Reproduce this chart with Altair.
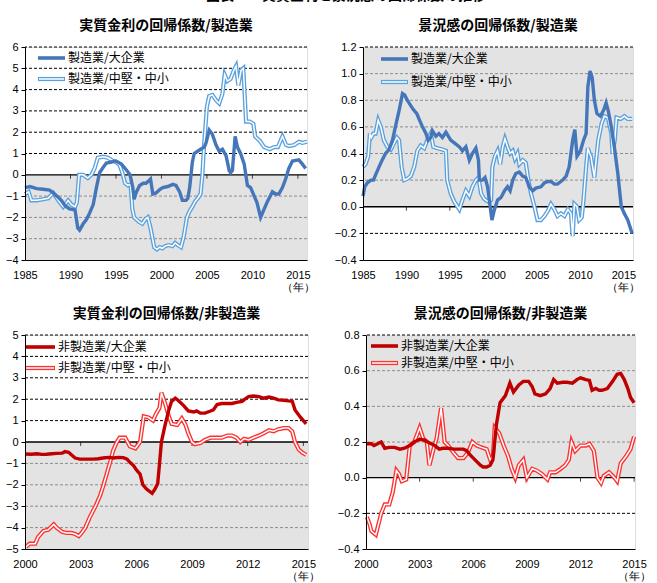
import altair as alt
import pandas as pd

JP = "Noto Sans CJK JP"
NUM = "Liberation Sans"
GRAY_BG = "#e3e3e3"

# ---------------- data (year, value) ----------------
mfg_rate_large = [(1985.0,-0.6),(1985.55,-0.55),(1986.3,-0.65),(1987.0,-0.68),(1987.7,-0.72),(1988.1,-0.85),(1988.5,-1.0),(1989.0,-1.2),(1989.4,-1.45),(1989.9,-1.6),(1990.5,-1.65),(1990.8,-2.5),(1991.0,-2.6),(1991.4,-2.3),(1991.75,-2.1),(1992.1,-1.8),(1992.5,-1.4),(1992.85,-0.6),(1993.2,0.1),(1993.6,0.35),(1993.95,0.55),(1994.5,0.6),(1995.0,0.65),(1995.6,0.5),(1996.1,0.25),(1996.55,0.0),(1996.85,-0.6),(1997.0,-1.15),(1997.2,-0.85),(1997.6,-0.5),(1998.0,-0.4),(1998.3,-0.4),(1998.7,-0.25),(1998.8,-0.2),(1999.05,-0.9),(1999.4,-0.85),(1999.8,-0.7),(2000.15,-0.6),(2000.7,-0.55),(2001.25,-0.45),(2001.6,-0.5),(2002.0,-0.8),(2002.3,-1.2),(2002.7,-1.2),(2002.9,-1.1),(2003.1,-0.6),(2003.4,0.6),(2003.6,1.0),(2004.3,1.2),(2004.7,1.3),(2004.9,1.5),(2005.25,2.1),(2005.6,1.9),(2006.0,1.4),(2006.35,1.1),(2006.7,1.2),(2007.1,0.9),(2007.45,0.2),(2007.6,0.1),(2007.8,0.2),(2008.1,1.8),(2008.35,1.3),(2008.7,1.0),(2009.1,0.5),(2009.45,-0.5),(2009.8,-0.6),(2010.2,-1.0),(2010.5,-1.3),(2010.9,-2.0),(2011.3,-1.6),(2011.6,-1.3),(2012.2,-0.8),(2012.55,-0.9),(2012.9,-0.9),(2013.3,-0.6),(2013.65,-0.2),(2014.0,0.3),(2014.4,0.65),(2015.1,0.7),(2015.5,0.5),(2015.85,0.3)]
mfg_rate_sme = [(1985.0,-0.9),(1985.4,-0.8),(1985.7,-1.2),(1986.3,-1.2),(1987.0,-1.15),(1987.55,-1.1),(1988.1,-0.85),(1988.65,-1.2),(1989.2,-1.5),(1989.75,-1.2),(1990.1,-1.4),(1990.5,-1.5),(1990.7,-1.3),(1990.95,0.0),(1991.4,0.0),(1991.9,-0.15),(1992.3,0.0),(1992.65,0.3),(1993.0,0.8),(1993.6,0.85),(1994.1,0.8),(1994.7,0.65),(1995.0,0.6),(1995.4,0.45),(1995.7,0.1),(1996.0,-0.4),(1996.3,-0.5),(1996.6,-0.45),(1996.8,-1.6),(1997.0,-2.0),(1997.5,-2.2),(1997.9,-2.3),(1998.2,-2.1),(1998.5,-2.0),(1998.8,-2.5),(1999.2,-3.4),(1999.5,-3.5),(1999.8,-3.4),(2000.1,-3.45),(2000.4,-3.35),(2000.8,-3.3),(2001.2,-3.35),(2001.5,-3.2),(2001.8,-3.3),(2002.15,-3.4),(2002.45,-2.9),(2002.8,-2.0),(2003.1,-1.7),(2003.4,-1.5),(2003.7,-1.25),(2004.0,-1.1),(2004.3,-0.9),(2004.5,0.0),(2004.7,1.5),(2005.0,3.2),(2005.25,3.7),(2005.6,3.75),(2006.0,3.5),(2006.35,3.35),(2006.7,3.8),(2006.95,4.7),(2007.25,4.4),(2007.6,4.5),(2007.95,4.9),(2008.2,5.1),(2008.45,4.2),(2008.75,4.9),(2009.0,5.0),(2009.3,2.5),(2009.7,2.5),(2010.1,2.4),(2010.3,1.8),(2010.8,1.6),(2011.3,1.3),(2011.9,1.2),(2012.4,1.3),(2012.8,1.3),(2013.3,1.8),(2013.7,1.4),(2014.0,1.35),(2014.6,1.4),(2015.1,1.55),(2015.5,1.5),(2016.0,1.55)]

mfg_biz_large = [(1985.0,0.08),(1985.2,0.15),(1985.5,0.18),(1985.9,0.2),(1986.2,0.2),(1986.45,0.24),(1986.85,0.3),(1987.2,0.35),(1987.6,0.4),(1988.0,0.43),(1988.4,0.5),(1988.8,0.62),(1989.15,0.72),(1989.55,0.85),(1989.8,0.84),(1990.1,0.8),(1990.5,0.76),(1990.8,0.73),(1991.2,0.7),(1991.45,0.66),(1991.85,0.6),(1992.25,0.55),(1992.5,0.5),(1992.8,0.52),(1993.0,0.57),(1993.4,0.53),(1993.75,0.55),(1994.15,0.52),(1994.55,0.56),(1995.1,0.5),(1995.7,0.47),(1996.1,0.45),(1996.45,0.42),(1996.85,0.45),(1997.25,0.35),(1997.6,0.4),(1998.0,0.44),(1998.3,0.35),(1998.4,0.2),(1998.75,0.2),(1999.05,0.22),(1999.35,0.15),(1999.65,0.0),(1999.85,-0.1),(2000.1,-0.03),(2000.5,0.05),(2000.9,0.07),(2001.3,0.12),(2001.65,0.15),(2001.95,0.12),(2002.25,0.2),(2002.6,0.25),(2003.0,0.26),(2003.4,0.23),(2003.75,0.22),(2004.15,0.15),(2004.55,0.12),(2004.9,0.14),(2005.5,0.15),(2005.9,0.18),(2006.3,0.19),(2006.65,0.19),(2007.05,0.17),(2007.4,0.17),(2008.0,0.2),(2008.4,0.23),(2008.75,0.3),(2009.15,0.5),(2009.4,0.58),(2009.65,0.38),(2010.05,0.42),(2010.4,0.5),(2010.7,0.55),(2010.9,0.9),(2011.15,1.02),(2011.4,0.97),(2011.65,0.8),(2011.95,0.7),(2012.35,0.68),(2012.75,0.73),(2013.0,0.78),(2013.25,0.72),(2013.6,0.6),(2013.95,0.45),(2014.35,0.25),(2014.75,0.0),(2015.1,-0.05),(2015.5,-0.1),(2016.0,-0.2)]
mfg_biz_sme = [(1985.0,0.3),(1985.3,0.32),(1985.6,0.38),(1985.8,0.55),(1985.95,0.52),(1986.2,0.55),(1986.45,0.55),(1986.75,0.65),(1987.05,0.6),(1987.4,0.5),(1987.8,0.45),(1988.2,0.43),(1988.6,0.48),(1988.9,0.52),(1989.15,0.5),(1989.45,0.3),(1989.75,0.2),(1990.1,0.21),(1990.5,0.23),(1990.9,0.3),(1991.25,0.42),(1991.65,0.46),(1992.05,0.44),(1992.4,0.5),(1992.8,0.55),(1993.1,0.45),(1993.6,0.44),(1994.15,0.43),(1994.55,0.42),(1994.7,0.2),(1995.1,0.1),(1995.5,0.04),(1995.9,0.0),(1996.1,-0.02),(1996.45,0.05),(1996.85,0.12),(1997.25,0.08),(1997.6,0.15),(1998.0,0.2),(1998.3,0.22),(1998.6,0.1),(1998.95,0.06),(1999.35,0.04),(1999.75,0.05),(1999.9,0.3),(2000.2,0.38),(2000.5,0.42),(2000.8,0.32),(2001.1,0.45),(2001.35,0.51),(2001.65,0.45),(2001.95,0.4),(2002.25,0.42),(2002.5,0.36),(2002.8,0.4),(2003.0,0.32),(2003.4,0.35),(2003.75,0.33),(2004.05,0.2),(2004.35,0.1),(2004.75,0.0),(2005.1,-0.1),(2005.5,-0.1),(2005.9,-0.07),(2006.3,-0.03),(2006.65,0.02),(2007.05,-0.02),(2007.4,-0.07),(2007.8,-0.05),(2008.2,-0.07),(2008.6,-0.02),(2008.95,-0.05),(2009.15,-0.22),(2009.35,0.02),(2009.65,0.0),(2009.9,-0.1),(2010.2,-0.08),(2010.4,0.05),(2010.7,0.3),(2010.9,0.44),(2011.1,0.4),(2011.25,0.38),(2011.45,0.3),(2011.65,0.22),(2011.85,0.35),(2012.1,0.5),(2012.5,0.63),(2012.8,0.68),(2013.2,0.67),(2013.6,0.55),(2013.75,0.4),(2014.0,0.5),(2014.2,0.67),(2014.7,0.66),(2015.1,0.68),(2015.5,0.66),(2016.0,0.66)]

nonmfg_rate_large = [(2000.0,-0.56),(2000.35,-0.57),(2000.65,-0.55),(2000.9,-0.58),(2001.15,-0.57),(2001.45,-0.55),(2001.7,-0.53),(2002.0,-0.52),(2002.15,-0.45),(2002.35,-0.48),(2002.5,-0.6),(2002.7,-0.75),(2002.95,-0.8),(2003.3,-0.8),(2003.7,-0.8),(2003.95,-0.78),(2004.2,-0.75),(2004.5,-0.72),(2004.75,-0.75),(2005.05,-0.72),(2005.3,-0.73),(2005.5,-0.8),(2005.65,-0.95),(2005.85,-1.1),(2006.0,-1.3),(2006.2,-1.5),(2006.35,-2.0),(2006.55,-2.2),(2006.85,-2.4),(2007.0,-2.2),(2007.15,-1.95),(2007.25,-1.0),(2007.35,0.0),(2007.55,0.8),(2007.75,1.5),(2007.9,1.9),(2008.1,2.05),(2008.25,1.95),(2008.55,1.7),(2008.8,1.45),(2009.1,1.4),(2009.25,1.45),(2009.45,1.35),(2009.7,1.35),(2010.0,1.45),(2010.15,1.5),(2010.35,1.75),(2010.6,1.8),(2010.9,1.8),(2011.15,1.8),(2011.4,1.85),(2011.7,1.9),(2011.85,2.0),(2012.05,2.12),(2012.3,2.15),(2012.6,2.12),(2012.85,2.05),(2013.15,2.1),(2013.4,2.05),(2013.65,1.97),(2013.95,1.95),(2014.2,1.92),(2014.4,1.9),(2014.55,1.5),(2014.85,1.15),(2015.15,0.85)]
nonmfg_rate_sme = [(2000.05,-4.9),(2000.25,-4.75),(2000.55,-4.75),(2000.7,-4.45),(2001.0,-4.15),(2001.25,-4.1),(2001.55,-3.85),(2001.7,-4.0),(2002.0,-4.2),(2002.25,-4.25),(2002.5,-4.25),(2002.7,-4.3),(2002.9,-4.4),(2003.05,-4.25),(2003.25,-4.0),(2003.5,-3.5),(2003.8,-3.0),(2004.05,-2.5),(2004.2,-2.1),(2004.4,-1.5),(2004.6,-0.9),(2004.75,-0.4),(2004.95,0.0),(2005.1,0.2),(2005.4,0.2),(2005.65,-0.2),(2005.95,-0.3),(2006.2,0.0),(2006.4,1.2),(2006.65,1.15),(2006.9,1.0),(2007.05,1.3),(2007.25,1.6),(2007.35,2.3),(2007.55,1.8),(2007.75,1.2),(2007.9,0.85),(2008.2,0.8),(2008.45,1.1),(2008.65,0.8),(2008.8,0.4),(2009.0,0.0),(2009.15,-0.1),(2009.45,-0.05),(2009.7,0.1),(2010.0,0.2),(2010.35,0.2),(2010.6,0.2),(2010.9,0.3),(2011.15,0.3),(2011.4,0.2),(2011.6,0.0),(2011.8,0.15),(2012.05,0.1),(2012.3,0.2),(2012.6,0.3),(2012.85,0.4),(2013.15,0.55),(2013.4,0.5),(2013.65,0.6),(2013.95,0.65),(2014.2,0.65),(2014.4,0.5),(2014.55,0.0),(2014.75,-0.35),(2014.95,-0.5),(2015.15,-0.6)]

nonmfg_biz_large = [(2000.05,0.19),(2000.3,0.19),(2000.45,0.18),(2000.65,0.19),(2000.85,0.2),(2001.05,0.165),(2001.3,0.17),(2001.6,0.17),(2001.9,0.16),(2002.15,0.165),(2002.45,0.18),(2002.7,0.2),(2003.0,0.215),(2003.3,0.21),(2003.45,0.2),(2003.65,0.19),(2003.85,0.18),(2004.1,0.16),(2004.3,0.165),(2004.6,0.165),(2004.9,0.16),(2005.15,0.16),(2005.45,0.16),(2005.65,0.15),(2005.8,0.13),(2006.1,0.1),(2006.4,0.07),(2006.55,0.06),(2006.75,0.06),(2006.95,0.07),(2007.1,0.1),(2007.2,0.2),(2007.3,0.3),(2007.5,0.42),(2007.8,0.46),(2008.05,0.53),(2008.25,0.48),(2008.55,0.52),(2008.8,0.54),(2009.1,0.54),(2009.3,0.51),(2009.45,0.47),(2009.75,0.46),(2010.05,0.47),(2010.3,0.5),(2010.5,0.55),(2010.7,0.53),(2011.0,0.535),(2011.25,0.535),(2011.55,0.53),(2011.8,0.55),(2012.0,0.56),(2012.3,0.55),(2012.5,0.545),(2012.65,0.49),(2012.85,0.5),(2013.05,0.49),(2013.2,0.49),(2013.5,0.5),(2013.8,0.54),(2014.05,0.58),(2014.25,0.585),(2014.45,0.55),(2014.65,0.5),(2014.8,0.45),(2015.0,0.42)]
nonmfg_biz_sme = [(2000.05,-0.22),(2000.2,-0.26),(2000.3,-0.3),(2000.55,-0.32),(2000.65,-0.28),(2000.85,-0.2),(2001.05,-0.15),(2001.3,-0.15),(2001.5,-0.08),(2001.7,0.04),(2001.85,0.02),(2002.0,-0.02),(2002.25,-0.01),(2002.45,0.18),(2002.7,0.2),(2003.0,0.28),(2003.2,0.22),(2003.4,0.2),(2003.55,0.07),(2003.75,0.15),(2003.95,0.22),(2004.2,0.39),(2004.4,0.2),(2004.6,0.18),(2004.9,0.14),(2005.15,0.11),(2005.45,0.11),(2005.7,0.14),(2005.95,0.2),(2006.2,0.18),(2006.45,0.17),(2006.75,0.16),(2006.95,0.1),(2007.1,0.12),(2007.2,0.28),(2007.45,0.25),(2007.7,0.18),(2007.95,0.12),(2008.15,0.05),(2008.35,0.0),(2008.55,0.07),(2008.8,0.1),(2009.0,0.0),(2009.3,0.05),(2009.55,0.04),(2009.85,0.02),(2010.15,-0.01),(2010.3,0.03),(2010.6,0.03),(2010.9,0.05),(2011.15,0.07),(2011.35,0.1),(2011.5,0.2),(2011.7,0.15),(2012.0,0.18),(2012.3,0.18),(2012.5,0.19),(2012.75,0.15),(2012.95,0.0),(2013.15,-0.03),(2013.3,0.01),(2013.6,0.03),(2013.9,0.0),(2014.05,-0.02),(2014.25,0.08),(2014.55,0.12),(2014.8,0.16),(2015.0,0.23)]

# axis ticks
ticks_long = [1985, 1990, 1995, 2000, 2005, 2010, 2015]
ticks_short = [2000, 2003, 2006, 2009, 2012, 2015]
y_tl = [6, 5, 4, 3, 2, 1, 0, -1, -2, -3, -4]
y_tr = [1.2, 1.0, 0.8, 0.6, 0.4, 0.2, 0.0, -0.2, -0.4]
y_bl = [5, 4, 3, 2, 1, 0, -1, -2, -3, -4, -5]
y_br = [0.8, 0.6, 0.4, 0.2, 0.0, -0.2, -0.4]

titles = ["実質金利の回帰係数/製造業", "景況感の回帰係数/製造業",
          "実質金利の回帰係数/非製造業", "景況感の回帰係数/非製造業"]
labels_mfg = ["製造業/大企業", "製造業/中堅・中小"]
labels_nonmfg = ["非製造業/大企業", "非製造業/中堅・中小"]

BLUE_L, BLUE_S = "#4576BA", "#5AA2DE"
RED_L, RED_S = "#C00000", "#FF3030"


def frame(pairs):
    return pd.DataFrame(pairs, columns=["year", "value"])


def one():
    return pd.DataFrame({"k": [0]})


def panel(title, large, sme, labels, c_large, c_sme, xdom, xticks, yticks, yfmt,
          shade_neg, w, h, leg):
    ydom = [min(yticks), max(yticks)]
    xs = alt.Scale(domain=xdom, nice=False, zero=False)
    ys = alt.Scale(domain=ydom, nice=False, zero=False)
    last = xticks[-1]
    xaxis = alt.Axis(values=xticks, format="d", title=None, grid=False, ticks=False,
                     domain=True, domainColor="black", domainWidth=1,
                     labelFont=NUM, labelFontSize=11, labelColor="black",
                     labelPadding=9, labelFlush=False, labelOverlap=False, zindex=1,
                     labelLineHeight=12,
                     labelExpr=f"datum.value == {last} ? [datum.label, '（年）'] : datum.label")
    yaxis = alt.Axis(values=yticks, format=yfmt, title=None, grid=False, ticks=True,
                     tickSize=4, tickColor="black", domainColor="black",
                     labelFont=NUM, labelFontSize=11, labelColor="black",
                     labelPadding=3, labelOverlap=False, labelFlush=False, zindex=1)
    X = alt.X("year:Q", scale=xs, axis=xaxis)
    Y = alt.Y("value:Q", scale=ys, axis=yaxis)

    if shade_neg:
        lo, hi = ydom[0], 0
    else:
        lo, hi = 0, ydom[1]
    bg = alt.Chart(pd.DataFrame({"value": [lo], "hi": [hi]})).mark_rect(
        color=GRAY_BG).encode(y=Y, y2="hi:Q", x=alt.value(0), x2=alt.value("width"))

    top = ydom[1]
    in_gray = [v for v in yticks if v != 0 and v != ydom[0] and v != top and ((v < 0) == shade_neg)]
    in_white = [v for v in yticks if v != 0 and v != ydom[0] and ((v < 0) != shade_neg or v == top)]
    g_white = alt.Chart(pd.DataFrame({"value": in_white})).mark_rule(
        color="#000000", strokeDash=[3, 2], strokeWidth=1).encode(y=Y)
    g_gray = alt.Chart(pd.DataFrame({"value": in_gray})).mark_rule(
        color="#8c8c8c", strokeDash=[3, 2], strokeWidth=1).encode(y=Y)
    zero = alt.Chart(pd.DataFrame({"value": [0]})).mark_rule(
        color="black", strokeWidth=1.3).encode(y=Y)
    tks = alt.Chart(pd.DataFrame({"year": xticks[1:], "value": [0] * (len(xticks) - 1)})).mark_tick(
        orient="vertical", color="black", size=4, thickness=1, yOffset=2).encode(x=X, y=Y)

    l_sme_out = alt.Chart(frame(sme)).mark_line(color=c_sme, strokeWidth=4.2).encode(x=X, y=Y)
    l_sme_in = alt.Chart(frame(sme)).mark_line(color="white", strokeWidth=1.5).encode(x=X, y=Y)
    l_large = alt.Chart(frame(large)).mark_line(color=c_large, strokeWidth=3.4).encode(x=X, y=Y)

    x0, x1, tx, y1, y2 = leg
    lg = [
        alt.Chart(one()).mark_rule(color=c_large, strokeWidth=3.6).encode(
            x=alt.value(x0), x2=alt.value(x1), y=alt.value(y1)),
        alt.Chart(one()).mark_rule(color=c_sme, strokeWidth=4.2).encode(
            x=alt.value(x0), x2=alt.value(x1), y=alt.value(y2)),
        alt.Chart(one()).mark_rule(color="white", strokeWidth=1.5).encode(
            x=alt.value(x0 + 1), x2=alt.value(x1 - 1), y=alt.value(y2)),
        alt.Chart(one()).mark_text(text=labels[0], font=JP, fontSize=12, align="left",
                                   baseline="middle", color="black").encode(
            x=alt.value(tx), y=alt.value(y1)),
        alt.Chart(one()).mark_text(text=labels[1], font=JP, fontSize=12, align="left",
                                   baseline="middle", color="black").encode(
            x=alt.value(tx), y=alt.value(y2)),
    ]
    return alt.layer(bg, g_gray, g_white, zero, tks, l_sme_out, l_sme_in, l_large, *lg).properties(
        width=w, height=h,
        title=alt.TitleParams(title, font=JP, fontSize=14, fontWeight="bold",
                              anchor="middle", offset=8, color="black"))


tl = panel(titles[0], mfg_rate_large, mfg_rate_sme, labels_mfg, BLUE_L, BLUE_S,
           [1985, 2016], ticks_long, y_tl, "d", True, 282, 213, (13, 40, 43, 11, 32))
tr = panel(titles[1], mfg_biz_large, mfg_biz_sme, labels_mfg, BLUE_L, BLUE_S,
           [1985, 2016.1], ticks_long, y_tr, ".1f", False, 270, 213, (18, 45, 48, 12, 35))
bl = panel(titles[2], nonmfg_rate_large, nonmfg_rate_sme, labels_nonmfg, RED_L, RED_S,
           [2000, 2015.25], ticks_short, y_bl, "d", True, 283, 214, (0, 30, 33, 12, 33))
br = panel(titles[3], nonmfg_biz_large, nonmfg_biz_sme, labels_nonmfg, RED_L, RED_S,
           [2000, 2015.05], ticks_short, y_br, ".1f", False, 269, 214, (5, 32, 35, 11, 28))

row1 = alt.hconcat(tl, tr, spacing=56, bounds="flush")
row2 = alt.hconcat(bl, br, spacing=58, bounds="flush")
chart = alt.vconcat(row1, row2, spacing=13).properties(
    title=alt.TitleParams("図表７　実質金利と景況感の回帰係数の推移", font=JP, fontSize=14,
                          fontWeight="bold", anchor="middle", offset=16, dx=18, color="black"),
    padding={"left": 4, "top": -12, "right": 5, "bottom": 5},
).configure_view(stroke="#7f7f7f", strokeWidth=1).configure(background="white")

chart.save("out.html", embed_options={"renderer": "svg", "actions": False})
